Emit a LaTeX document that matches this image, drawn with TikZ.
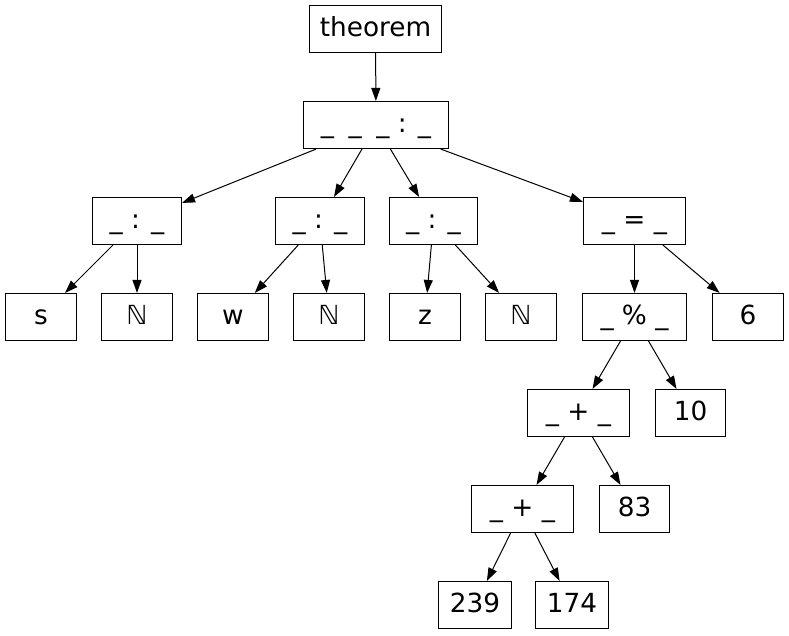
\documentclass[tikz,border=0pt]{standalone}
\usepackage{fontspec}
\setmainfont{DejaVu Sans}
\usetikzlibrary{arrows.meta}
\begin{document}
\begin{tikzpicture}[x=1pt,y=-1pt,
  box/.style={draw, line width=1.1pt, minimum height=47pt, inner sep=0pt,
    text height=20pt, text depth=5pt, font=\fontsize{26.3}{31}\selectfont},
  edge/.style={-{Triangle[length=13pt,width=9pt]}, line width=1pt}]
\useasboundingbox (0,0) rectangle (789,635);
\node[box, minimum width=132pt] (thm) at (375.5,29) {theorem};
\node[box, minimum width=145pt] (root) at (376,125) {\_\hspace{14.6pt}\_\hspace{14.6pt}\_ : \_};
\node[box, minimum width=89pt] (c1) at (137,221) {\_ : \_};
\node[box, minimum width=89pt] (c2) at (320,221) {\_ : \_};
\node[box, minimum width=88pt] (c3) at (433.5,221) {\_ : \_};
\node[box, minimum width=102pt] (c4) at (634.5,221) {\_ = \_};
\node[box, minimum width=71pt] (s) at (41,317) {s};
\node[box, minimum width=71pt] (n1) at (137,317) {ℕ};
\node[box, minimum width=71pt] (w) at (233,317) {w};
\node[box, minimum width=71pt] (n2) at (329,317) {ℕ};
\node[box, minimum width=71pt] (z) at (425,317) {z};
\node[box, minimum width=71pt] (n3) at (521,317) {ℕ};
\node[box, minimum width=104pt] (mod) at (634.5,317) {\_ \% \_};
\node[box, minimum width=71pt] (six) at (748,317) {6};
\node[box, minimum width=102pt] (p1) at (578.5,413) {\_ + \_};
\node[box, minimum width=70pt] (ten) at (690.5,413) {10};
\node[box, minimum width=102pt] (p2) at (522.5,509) {\_ + \_};
\node[box, minimum width=70pt] (e83) at (634.5,509) {83};
\node[box, minimum width=73pt] (a) at (475,605) {239};
\node[box, minimum width=73pt] (b) at (572,605) {174};
\draw[edge] (thm) -- (root);
\draw[edge] (root) -- (c1);
\draw[edge] (root) -- (c2);
\draw[edge] (root) -- (c3);
\draw[edge] (root) -- (c4);
\draw[edge] (c1) -- (s);
\draw[edge] (c1) -- (n1);
\draw[edge] (c2) -- (w);
\draw[edge] (c2) -- (n2);
\draw[edge] (c3) -- (z);
\draw[edge] (c3) -- (n3);
\draw[edge] (c4) -- (mod);
\draw[edge] (c4) -- (six);
\draw[edge] (mod) -- (p1);
\draw[edge] (mod) -- (ten);
\draw[edge] (p1) -- (p2);
\draw[edge] (p1) -- (e83);
\draw[edge] (p2) -- (a);
\draw[edge] (p2) -- (b);
\end{tikzpicture}
\end{document}
